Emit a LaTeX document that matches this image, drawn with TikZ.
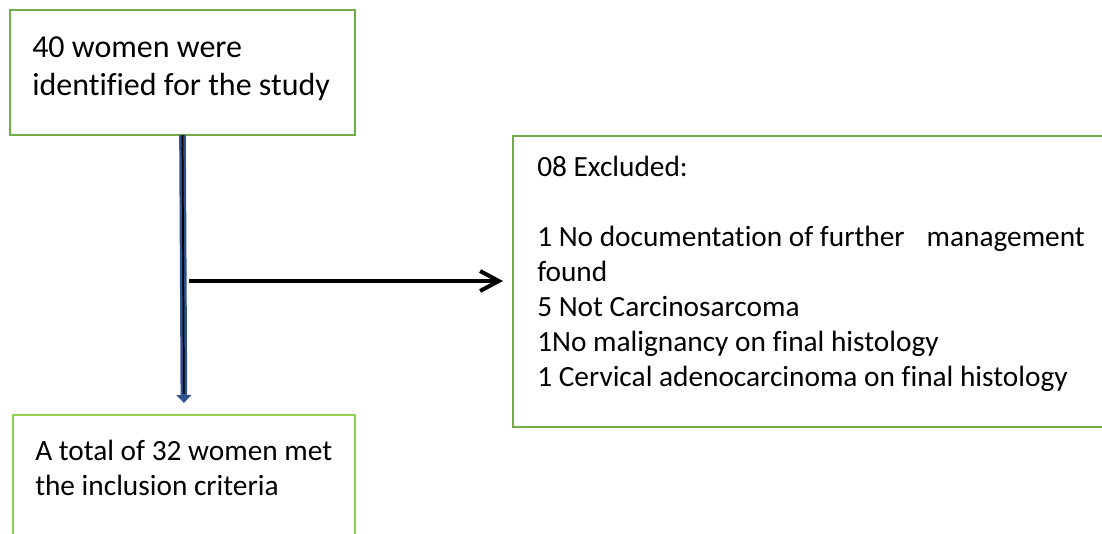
\documentclass[tikz,border=0pt]{standalone}
\usepackage{fontspec}
\setmainfont[Ligatures=NoCommon]{Carlito}
\usetikzlibrary{arrows.meta, positioning}
\definecolor{boxgreen}{RGB}{112,173,71}
\definecolor{limegreen}{RGB}{146,208,80}
\definecolor{flowblue}{RGB}{47,82,143}
\tikzset{
    flowbox/.style={rectangle, draw=#1, line width=2.2pt, inner sep=0pt, outer sep=0pt, anchor=north west},
    flowtext/.style={anchor=north west, align=left, inner sep=0pt, font=\fontsize{22}{26.25}\selectfont},
    mainarrow/.style={-{Triangle[width=11pt, length=6pt]}, draw=flowblue, fill=flowblue, line width=5pt},
    mainrule/.style={draw=black, line width=1.3pt},
    sidearrow/.style={-{Straight Barb[length=14pt, width=15pt]}, draw=black, line width=3pt}
}

\begin{document}
\begin{tikzpicture}[x=0.75pt, y=-0.75pt]
\useasboundingbox (0,0) rectangle (1102,533);
\clip (0,0) rectangle (1102,533);

% boxes
\node[flowbox=boxgreen, minimum width=258.75pt, minimum height=93.75pt] (idbox) at (10,10) {};
\node[flowbox=boxgreen, minimum width=447.75pt, minimum height=218.25pt] (exclbox) at (513,136) {};
\node[flowbox=limegreen, minimum width=256.5pt, minimum height=108.75pt] (inclbox) at (13,415) {};

% texts
\node[flowtext, font=\fontsize{24}{29}\selectfont, below right=19.5pt and 16.5pt of idbox.north west] (idtext)
    {40 women were\\identified for the study};
\node[flowtext, below right=15pt and 18pt of exclbox.north west] (excltext)
    {08 Excluded:\\\mbox{}\\1 No documentation of further\hspace{0.75em}management\\found\\5 Not Carcinosarcoma\\1No malignancy on final histology\\1 Cervical adenocarcinoma on final histology};
\node[flowtext, below right=19pt and 16.5pt of inclbox.north west] (incltext)
    {A total of 32 women met\\the inclusion criteria};

% connectors
\draw[mainarrow, shorten >=9pt] (idbox.south) -- (inclbox.north);
\draw[mainrule, shorten >=16pt] (idbox.south) -- (inclbox.north);
\coordinate (split) at (189,281);
\draw[sidearrow, shorten >=7.5pt] (split) -- (split -| exclbox.west);

\end{tikzpicture}
\end{document}
